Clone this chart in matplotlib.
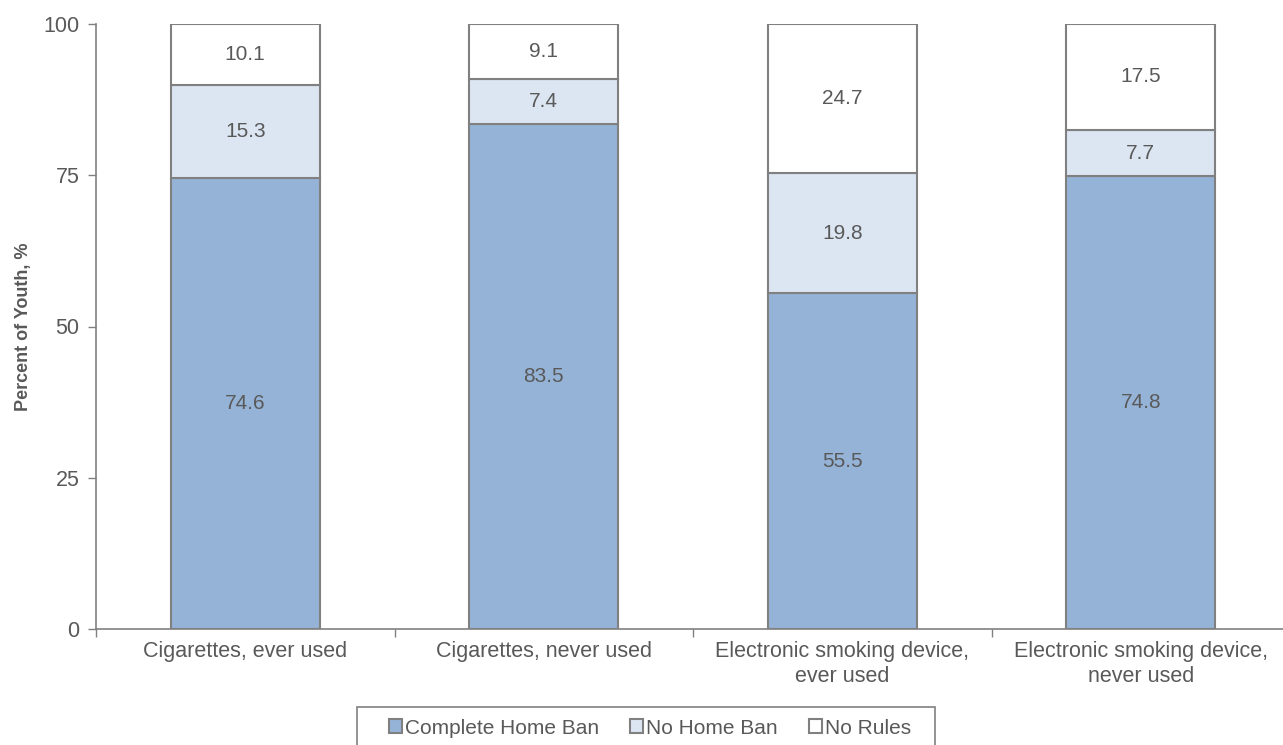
import matplotlib.pyplot as plt
from matplotlib.patches import Rectangle
import numpy as np

plt.rcParams['font.family'] = ['Liberation Sans', 'DejaVu Sans']

# data
categories = ['Cigarettes, ever used', 'Cigarettes, never used',
              'Electronic smoking device,\never used',
              'Electronic smoking device,\nnever used']
complete_ban = [74.6, 83.5, 55.5, 74.8]
no_home_ban = [15.3, 7.4, 19.8, 7.7]
no_rules = [10.1, 9.1, 24.7, 17.5]
series_names = ['Complete Home Ban', 'No Home Ban', 'No Rules']
colors = ['#95B3D7', '#DCE6F2', '#FFFFFF']

TEXT = '#595959'
EDGE = '#808080'
FS = 15.5

fig = plt.figure(figsize=(12.83, 7.45), dpi=100)
ax = fig.add_axes([96 / 1283, 1 - 629 / 745, 1194 / 1283, 605 / 745])

x = np.arange(len(categories))
bottom = np.zeros(len(categories))
for vals, name, c in zip([complete_ban, no_home_ban, no_rules], series_names, colors):
    vals = np.array(vals)
    ax.bar(x, vals, width=0.5, bottom=bottom, color=c, edgecolor=EDGE,
           linewidth=1.5, label=name)
    for xi, b, v in zip(x, bottom, vals):
        ax.text(xi, b + v / 2, f'{v:.1f}', ha='center', va='center',
                fontsize=FS - 0.5, color=TEXT)
    bottom += vals

ax.set_xlim(-0.5, len(categories) - 0.5)
ax.set_ylim(0, 100)
ax.set_yticks([0, 25, 50, 75, 100])
ax.set_xticks(np.arange(-0.5, len(categories), 1.0))
ax.set_xticklabels([])
ax.set_xticks(x, minor=True)
ax.set_xticklabels(categories, minor=True)
ax.tick_params(axis='x', which='minor', length=0, pad=9, labelsize=FS, labelcolor=TEXT)
ax.tick_params(axis='x', which='major', length=6, color=EDGE, width=1)
ax.tick_params(axis='y', length=6, color=EDGE, width=1, labelsize=FS,
               labelcolor=TEXT, pad=6)

for s in ['top', 'right']:
    ax.spines[s].set_visible(False)
for s in ['left', 'bottom']:
    ax.spines[s].set_color(EDGE)
    ax.spines[s].set_linewidth(1.2)

ax.set_ylabel('Percent of Youth, %', fontsize=13, fontweight='bold', color=TEXT)
ax.yaxis.set_label_coords(-64 / 1194, 0.5)

# legend box runs past the bottom edge of the figure
fig.patches.append(Rectangle((357 / 1283, -0.05), (935 - 357) / 1283, 0.05 + 38 / 745,
                             transform=fig.transFigure, facecolor='white',
                             edgecolor=EDGE, linewidth=1.2, zorder=-1))
leg = fig.legend(*ax.get_legend_handles_labels(), loc='center left',
                 bbox_to_anchor=(389 / 1283, 1 - 728 / 745),
                 bbox_transform=fig.transFigure, ncol=3, frameon=False,
                 fontsize=15, handlelength=0.62, handleheight=0.62,
                 handletextpad=0.15, columnspacing=1.5, borderaxespad=0, borderpad=0)
leg.set_zorder(5)
for t in leg.get_texts():
    t.set_color(TEXT)

fig.savefig('out.png', dpi=100)
